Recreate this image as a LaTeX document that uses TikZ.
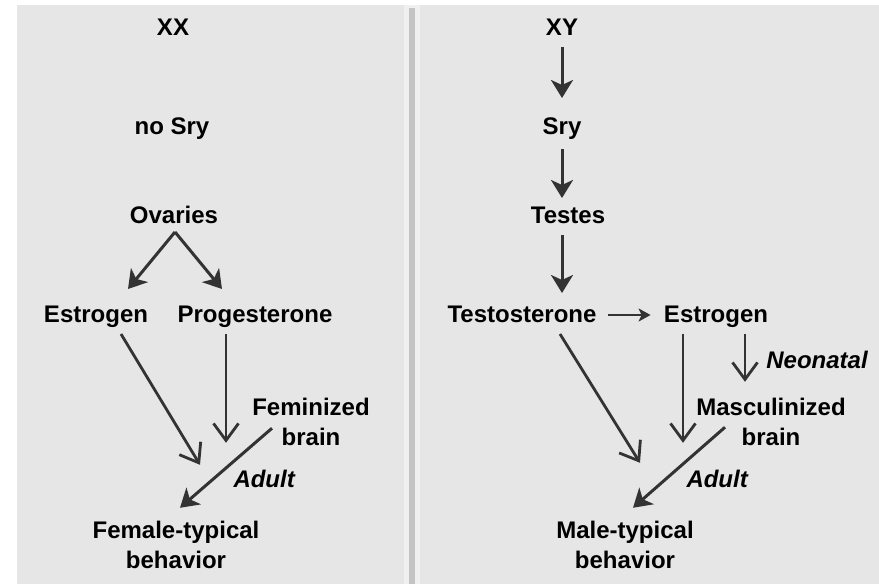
\documentclass[tikz,border=0pt]{standalone}
\usepackage{fontspec}
\setmainfont{Liberation Sans}
\usetikzlibrary{arrows.meta}
\definecolor{panel}{RGB}{230,230,230}
\definecolor{divider}{RGB}{196,196,196}
\definecolor{ink}{RGB}{51,51,51}

\begin{document}
\begin{tikzpicture}[
  x=0.5pt, y=-0.5pt,
  lbl/.style={inner sep=0pt, font=\fontsize{12}{15}\selectfont\bfseries, text height=0.72em, text depth=0pt},
  lbltwo/.style={inner sep=0pt, font=\fontsize{12}{15}\selectfont\bfseries, align=center},
  tag/.style={inner sep=0pt, font=\fontsize{12}{15}\selectfont\bfseries\itshape, text height=0.72em, text depth=0pt},
  solid arrow/.style={-{Stealth[length=9pt, width=11pt, inset=2.5pt]}, line width=1.5pt, draw=ink},
  small arrow/.style={-{Stealth[length=6pt, width=6.5pt, inset=1.5pt]}, line width=1pt, draw=ink},
  open arrow/.style={-{Straight Barb[length=8.5pt, width=12.5pt]}, line width=1.4pt, draw=ink}
]
% background panels
\useasboundingbox (0,0) rectangle (879,584);
\fill[white] (0,0) rectangle (879,584);
\fill[panel] (17,5) rectangle (404,584);
\fill[panel!60!white] (404,5) rectangle (420,584);
\fill[panel] (420,5) rectangle (879,584);
\fill[divider] (409,8) rectangle (415,584);

% XX side
\node[lbl] (xx) at (173,28) {XX};
\node[lbl] (nosry) at (172,127) {no Sry};
\node[lbl] (ovar) at (174,216) {Ovaries};
\node[lbl] (estL) at (96,315) {Estrogen};
\node[lbl] (prog) at (255,315) {Progesterone};
\node[lbltwo] (fembr) at (311,422) {Feminized\\brain};
\node[lbltwo] (fembeh) at (176,545) {Female-typical\\behavior};

\draw[solid arrow] ([xshift=0.5pt, yshift=-4.2pt]ovar.south) -- ([xshift=16pt, yshift=9.2pt]estL.north);
\draw[solid arrow] ([xshift=0.5pt, yshift=-4.2pt]ovar.south) -- ([xshift=-16.5pt, yshift=9.2pt]prog.north);
\draw[open arrow] ([xshift=12.5pt, yshift=-5.7pt]estL.south) -- ([xshift=12pt, yshift=28pt]fembeh.north);
\draw[open arrow] ([xshift=-14.5pt, yshift=-5.7pt]prog.south) -- ([xshift=25pt, yshift=39pt]fembeh.north);
\draw[solid arrow] ([xshift=-19.5pt, yshift=9pt]fembr.south) -- node[tag, anchor=north west, xshift=3pt, yshift=-2pt] (adultL) {Adult} ([xshift=2pt, yshift=6.5pt]fembeh.north);

% XY side
\node[lbl] (xy) at (562,28) {XY};
\node[lbl] (sry) at (562,127) {Sry};
\node[lbl] (testes) at (568,216) {Testes};
\node[lbl] (testo) at (522,315) {Testosterone};
\node[lbl] (estR) at (716,315) {Estrogen};
\node[lbltwo] (mascbr) at (771,422) {Masculinized\\brain};
\node[lbltwo] (malebeh) at (625,545) {Male-typical\\behavior};

\draw[solid arrow] ([yshift=-5.7pt]xy.south) -- ([yshift=10.7pt]sry.north);
\draw[solid arrow] ([yshift=-7.2pt]sry.south) -- ([xshift=-3pt, yshift=5.2pt]testes.north);
\draw[solid arrow] ([xshift=-3pt, yshift=-5.7pt]testes.south) -- ([xshift=20pt, yshift=7.2pt]testo.north);
\draw[small arrow] ([xshift=5.5pt]testo.east) -- ([xshift=-6.5pt]estR.west);
\draw[open arrow] ([xshift=19pt, yshift=-5.7pt]testo.south) -- ([xshift=7.5pt, yshift=29pt]malebeh.north);
\draw[open arrow] ([xshift=-16.5pt, yshift=-5.7pt]estR.south) -- ([xshift=29pt, yshift=39pt]malebeh.north);
\draw[open arrow] ([xshift=14.5pt, yshift=-5.7pt]estR.south) -- node[tag, anchor=west, xshift=10pt, yshift=-1.75pt] (neo) {Neonatal} ([xshift=-13pt, yshift=8pt]mascbr.north);
\draw[solid arrow] ([xshift=-23pt, yshift=9.5pt]mascbr.south) -- node[tag, anchor=north west, xshift=3pt, yshift=-2pt] (adultR) {Adult} ([xshift=4pt, yshift=6.5pt]malebeh.north);
\end{tikzpicture}
\end{document}
